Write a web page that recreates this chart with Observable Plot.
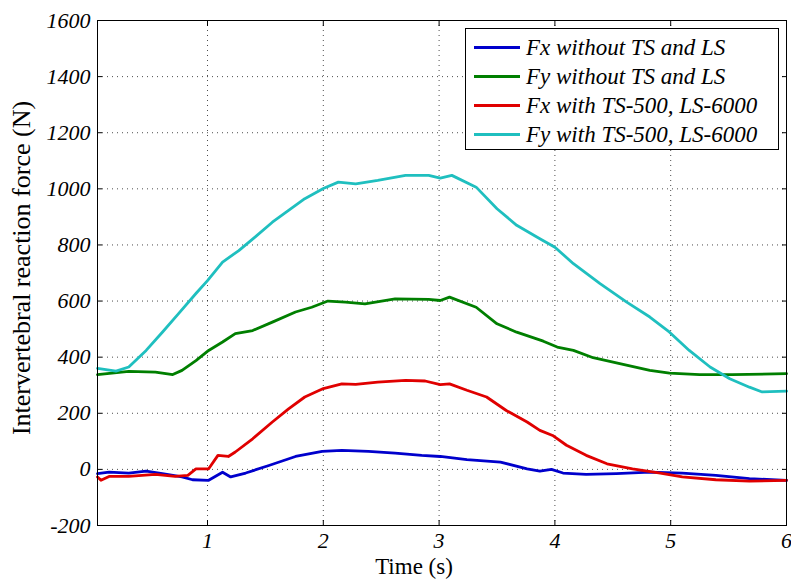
<!DOCTYPE html>
<html><head><meta charset="utf-8">
<script src="https://cdn.jsdelivr.net/npm/d3@7"></script>
<script src="https://cdn.jsdelivr.net/npm/@observablehq/plot@0.6"></script>
<style>
body{margin:0;background:#fff;}
#wrap{position:relative;width:791px;height:585px;overflow:hidden;}
#legend{position:absolute;left:465px;top:28px;width:314px;height:122px;border:1px solid #000;background:#fff;font-family:"Liberation Serif";font-style:italic;font-size:23px;box-sizing:border-box;}
.row{position:absolute;left:0;display:flex;align-items:center;height:29px;white-space:nowrap;}
.sw{width:46px;height:3px;margin-left:8px;margin-right:6px;}
</style></head><body><div id="wrap"></div><script>
const seriesNames = ["Fx without TS and LS","Fy without TS and LS","Fx with TS-500, LS-6000","Fy with TS-500, LS-6000"];
const seriesColors = ["#0000cc","#007f00","#e00000","#1fbfbf"];

const tFxNo = [0.05,0.15,0.32,0.47,0.61,0.78,0.87,1.01,1.13,1.20,1.33,1.53,1.76,1.99,2.16,2.39,2.62,2.85,3.01,3.24,3.53,3.76,3.87,3.97,4.07,4.27,4.53,4.82,5.10,5.39,5.68,6.0];
const vFxNo = [-15,-10,-13,-6,-15,-27,-37,-39,-10,-27,-13,14,46,64,68,64,58,50,46,35,26,2,-6,0,-13,-18,-15,-10,-13,-21,-33,-39];

const tFyNo = [0.05,0.32,0.55,0.70,0.78,0.90,1.01,1.13,1.24,1.39,1.56,1.76,1.90,2.04,2.19,2.36,2.62,2.91,3.01,3.09,3.32,3.50,3.67,3.90,4.02,4.16,4.33,4.56,4.82,4.99,5.25,5.53,6.0];
const vFyNo = [338,349,347,338,353,388,424,454,484,495,525,561,578,600,596,590,608,606,602,614,578,519,489,457,436,424,398,377,353,343,338,338,341];

const tFxTS = [0.05,0.08,0.15,0.32,0.55,0.72,0.83,0.90,1.01,1.09,1.18,1.24,1.39,1.56,1.70,1.84,2.00,2.16,2.28,2.47,2.71,2.88,3.01,3.09,3.24,3.41,3.58,3.76,3.87,3.98,4.10,4.27,4.45,4.67,4.91,5.10,5.39,5.68,6.0];
const vFxTS = [-27,-39,-25,-25,-18,-25,-21,2,2,50,46,62,109,169,216,258,288,305,303,311,317,315,302,305,282,258,210,169,139,121,86,50,20,2,-13,-27,-37,-42,-39];

const tFyTS = [0.05,0.21,0.32,0.47,0.61,0.75,0.90,1.00,1.13,1.27,1.41,1.56,1.70,1.84,2.00,2.13,2.28,2.47,2.71,2.91,3.01,3.11,3.32,3.50,3.67,3.87,4.00,4.16,4.39,4.62,4.82,4.99,5.16,5.34,5.51,5.68,5.79,6.0];
const vFyTS = [360,350,365,424,489,555,627,673,739,780,828,881,923,965,1001,1024,1018,1030,1048,1048,1038,1048,1006,929,870,822,792,733,662,596,543,489,424,365,323,293,276,279];

const xTicks = [1,2,3,4,5,6];
const yTicks = [-200,0,200,400,600,800,1000,1200,1400,1600];
const xLabel = "Time (s)";
const yLabel = "Intervertebral reaction force (N)";

const times = [tFxNo,tFyNo,tFxTS,tFyTS];
const vals = [vFxNo,vFyNo,vFxTS,vFyTS];
const data = seriesNames.flatMap((name,k)=>times[k].map((t,i)=>({t, v: vals[k][i], name})));

const noLabel = () => "";
const chart = Plot.plot({
  width: 791, height: 585,
  marginLeft: 97, marginRight: 5, marginTop: 20, marginBottom: 60,
  x: {domain: [0.05, 6]},
  y: {domain: [-200, 1600]},
  color: {domain: seriesNames, range: seriesColors},
  style: {fontFamily: "Liberation Serif", background: "white", color: "black"},
  marks: [
    Plot.gridX(xTicks.filter(d => d < 6), {stroke: "#000", strokeOpacity: 0.7, strokeDasharray: "1,4"}),
    Plot.gridY(yTicks.filter(d => d > -200 && d < 1600), {stroke: "#000", strokeOpacity: 0.7, strokeDasharray: "1,4"}),
    Plot.line(data, {x: "t", y: "v", z: "name", stroke: "name", strokeWidth: 2.8}),
    Plot.axisX(xTicks, {anchor: "bottom", tickSize: -5, tickFormat: noLabel, label: null}),
    Plot.axisX(xTicks, {anchor: "top", tickSize: -5, tickFormat: noLabel, label: null}),
    Plot.axisY(yTicks, {anchor: "left", tickSize: -5, tickFormat: noLabel, label: null}),
    Plot.axisY(yTicks, {anchor: "right", tickSize: -5, tickFormat: noLabel, label: null}),
    Plot.axisX(xTicks, {anchor: "bottom", tickSize: 0, tickPadding: 7, fontSize: 22, fontStyle: "italic", tickFormat: d => String(d), label: null}),
    Plot.axisY(yTicks, {anchor: "left", tickSize: 0, tickPadding: 7, fontSize: 22, fontStyle: "italic", tickFormat: d => String(d), label: null}),
    Plot.frame({stroke: "#000", strokeWidth: 1}),
    Plot.text([xLabel], {text: d => d, frameAnchor: "bottom", textAnchor: "middle", dx: -28, dy: 48, fontSize: 23}),
    Plot.text([yLabel], {text: d => d, frameAnchor: "left", textAnchor: "middle", rotate: -90, dx: -76, dy: -5, fontSize: 26})
  ]
});
const wrap = document.getElementById("wrap");
wrap.appendChild(chart);

const legend = document.createElement("div");
legend.id = "legend";
seriesNames.forEach((name, i) => {
  const row = document.createElement("div");
  row.className = "row";
  row.style.top = (4 + i * 29) + "px";
  const sw = document.createElement("span");
  sw.className = "sw";
  sw.style.background = seriesColors[i];
  const tx = document.createElement("span");
  tx.textContent = name;
  row.appendChild(sw); row.appendChild(tx);
  legend.appendChild(row);
});
wrap.appendChild(legend);
</script></body></html>
